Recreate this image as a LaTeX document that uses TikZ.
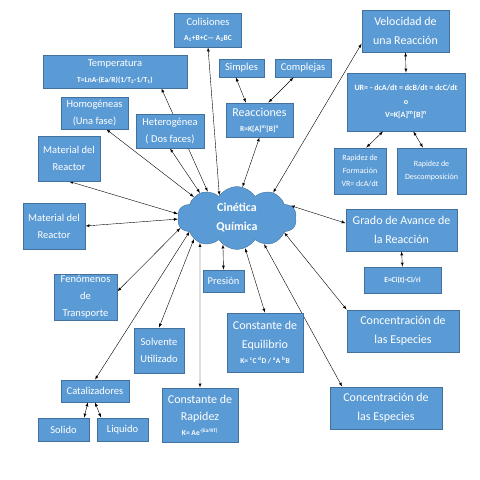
\documentclass[tikz,border=0pt]{standalone}
\usepackage{fontspec}
\setmainfont{Carlito}
\usetikzlibrary{shapes.symbols, backgrounds}
\definecolor{cqBlue}{HTML}{5B9BD5}
\definecolor{cqBorder}{HTML}{41719C}
\newcommand{\fml}[1]{{\fontsize{7.5}{9}\selectfont\bfseries #1}}

\begin{document}
\begin{tikzpicture}[
        x=1pt, y=-1pt,
        % Estilos de las cajas
        box/.style={
            rectangle,
            draw=cqBorder,
            fill=cqBlue,
            text=white,
            align=center,
            inner sep=1pt,
            line width=0.8pt
        },
        bigtxt/.style={font=\fontsize{12}{19}\selectfont},
        midtxt/.style={font=\fontsize{10.5}{17}\selectfont},
        smalltxt/.style={font=\fontsize{8}{13}\selectfont},
        % Estilo de las flechas
        link/.style={<->, >=latex, thin, color=black}
    ]
    \useasboundingbox (0,0) rectangle (480,480);

    % -- Nodo central --
    \node[cloud, cloud puffs=10, cloud puff arc=115, cloud ignores aspect,
          draw=cqBorder, fill=cqBlue, text=white, align=center, inner sep=0pt,
          minimum width=119, minimum height=63,
          font=\fontsize{12}{19}\selectfont\bfseries] (cq) at (237,218) {Cinética\\Química};

    % -- Lado izquierdo --
    \node[box, midtxt, minimum width=67, minimum height=34] (col) at (208,30) {Colisiones\\[-2pt] \fml{A\textsubscript{1}+B+C— A\textsubscript{2}BC}};
    \node[box, midtxt, minimum width=144, minimum height=33] (temp) at (115,71.5) {Temperatura\\[-1pt] \fml{T=LnA-(Ea/R)(1/T\textsubscript{2}-1/T\textsubscript{1})}};
    \node[box, midtxt, minimum width=67, minimum height=32] (hom) at (94.5,113) {Homogéneas\\(Una fase)};
    \node[box, midtxt, minimum width=68, minimum height=34] (het) at (170,131) {Heterogénea\\( Dos faces)};
    \node[box, midtxt, minimum width=62, minimum height=45] (mat1) at (69,158.5) {Material del\\Reactor};
    \node[box, midtxt, minimum width=62, minimum height=46] (mat2) at (54,226) {Material del\\Reactor};
    \node[box, midtxt, minimum width=63, minimum height=46] (fen) at (85.5,297) {Fenómenos\\de\\Transporte};
    \node[box, midtxt, minimum width=50, minimum height=45] (solv) at (159,350.5) {Solvente\\Utilizado};
    \node[box, midtxt, minimum width=68, minimum height=22] (cat) at (95,391) {Catalizadores};
    \node[box, midtxt, minimum width=51, minimum height=23] (sol) at (63.5,429.5) {Solido};
    \node[box, midtxt, minimum width=51, minimum height=23] (liq) at (122.5,429.5) {Liquido};

    % -- Parte inferior --
    \node[box, bigtxt, minimum width=76, minimum height=54] (krap) at (200,415) {Constante de\\[-2pt]Rapidez\\[-4pt] \fml{K= Ae\textsuperscript{-(Ea/RT)}}};
    \node[box, midtxt, minimum width=41, minimum height=22] (pres) at (223.5,281) {Presión};
    \node[box, bigtxt, minimum width=76, minimum height=59] (keq) at (265,342.5) {Constante de\\Equilibrio\\[-4pt] \fml{K= \textsuperscript{c}C \textsuperscript{d}D / \textsuperscript{a}A \textsuperscript{b}B}};
    \node[box, bigtxt, minimum width=112, minimum height=42] (conc1) at (403,331) {Concentración de\\las Especies};
    \node[box, bigtxt, minimum width=112, minimum height=42] (conc2) at (386,408) {Concentración de\\las Especies};

    % -- Lado derecho --
    \node[box, bigtxt, minimum width=111, minimum height=42] (grado) at (401.5,230) {Grado de Avance de\\la Reacción};
    \node[box, font=\fontsize{7.5}{10}\selectfont\bfseries, minimum width=77, minimum height=26] (eci) at (402.5,280) {E=Ci(t)-Ci/ri};
    \node[box, bigtxt, minimum width=87, minimum height=42] (vel) at (405.5,31) {Velocidad de\\una Reacción};
    \node[box, font=\fontsize{8}{13.3}\selectfont\bfseries, minimum width=118, minimum height=58] (ur) at (406,102) {UR= - dcA/dt = dcB/dt = dcC/dt\\o\\V=K[A]\textsuperscript{m}[B]\textsuperscript{n}};
    \node[box, smalltxt, minimum width=52, minimum height=46] (rform) at (360,171) {Rapidez de\\Formación\\VR= dcA/dt};
    \node[box, smalltxt, minimum width=69, minimum height=46] (rdesc) at (431.5,171) {Rapidez de\\Descomposición};

    % -- Reacciones --
    \node[box, midtxt, minimum width=45, minimum height=18] (simp) at (241.5,68) {Simples};
    \node[box, midtxt, minimum width=56, minimum height=18] (compl) at (303,68) {Complejas};
    \node[box, bigtxt, minimum width=67, minimum height=34] (reac) at (259.5,120) {Reacciones\\[-4pt] \fml{R=K[A]\textsuperscript{m}[B]\textsuperscript{n}}};

    % -- Conexiones --
    \begin{scope}[on background layer]
    \draw[link] (cq.128) -- (col.south);
    \draw[link] (cq.138) -- (temp.-20);
    \draw[link] (cq.146) -- (het.south);
    \draw[link] (cq.154) -- (hom.-54);
    \draw[link] (cq.176) -- (mat1.south);
    \draw[link] (cq.181) -- (mat2.east);
    \draw[link] (cq.190) -- (fen.10);
    \draw[link] (cq.196) -- (cat.north);
    \draw[link] (cq.206) -- (solv.north);
    \draw[link] (cq.214) -- (krap.north);
    \draw[link] (cq.242) -- (pres.north);
    \draw[link] (cq.285) -- (keq.north);
    \draw[link] (cq.316) -- (conc2.154);
    \draw[link] (cq.343) -- (conc1.north west);
    \draw[link] (cq.13) -- (grado.173);
    \draw[link] (cq.35) -- (vel.196);
    \draw[link] (cq.80) -- (reac.south);
    \end{scope}

    \draw[link] (cat.238) -- (sol.30);
    \draw[link] (cat.south) -- (liq.151);
    \draw[link] (simp.-121) -- (reac.128);
    \draw[link] (compl.225) -- (reac.63);
    \draw[link] (vel.south) -- (ur.north);
    \draw[link] (ur.232) -- (rform.75);
    \draw[link] (ur.-76) -- (rdesc.110);
    \draw[link] (grado.south) -- (eci.north);

\end{tikzpicture}
\end{document}
